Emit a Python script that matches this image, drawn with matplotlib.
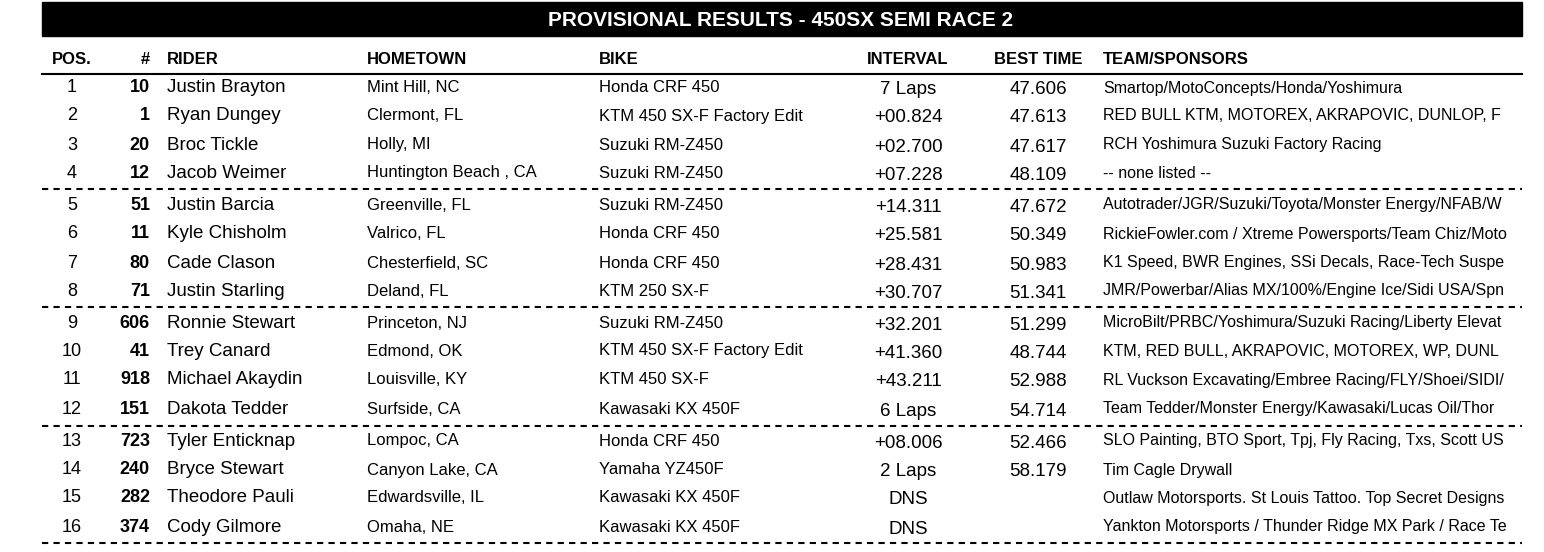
import matplotlib
matplotlib.use("Agg")
import matplotlib.pyplot as plt
from matplotlib.patches import Rectangle

title = "PROVISIONAL RESULTS - 450SX SEMI RACE 2"
headers = ["POS.", "#", "RIDER", "HOMETOWN", "BIKE", "INTERVAL", "BEST TIME", "TEAM/SPONSORS"]
positions = list(range(1, 17))
numbers = ["10", "1", "20", "12", "51", "11", "80", "71", "606", "41", "918", "151", "723", "240", "282", "374"]
riders = ["Justin Brayton", "Ryan Dungey", "Broc Tickle", "Jacob Weimer", "Justin Barcia", "Kyle Chisholm",
          "Cade Clason", "Justin Starling", "Ronnie Stewart", "Trey Canard", "Michael Akaydin", "Dakota Tedder",
          "Tyler Enticknap", "Bryce Stewart", "Theodore Pauli", "Cody Gilmore"]
hometowns = ["Mint Hill, NC", "Clermont, FL", "Holly, MI", "Huntington Beach , CA", "Greenville, FL", "Valrico, FL",
             "Chesterfield, SC", "Deland, FL", "Princeton, NJ", "Edmond, OK", "Louisville, KY", "Surfside, CA",
             "Lompoc, CA", "Canyon Lake, CA", "Edwardsville, IL", "Omaha, NE"]
bikes = ["Honda CRF 450", "KTM 450 SX-F Factory Edit", "Suzuki RM-Z450", "Suzuki RM-Z450", "Suzuki RM-Z450",
         "Honda CRF 450", "Honda CRF 450", "KTM 250 SX-F", "Suzuki RM-Z450", "KTM 450 SX-F Factory Edit",
         "KTM 450 SX-F", "Kawasaki KX 450F", "Honda CRF 450", "Yamaha YZ450F", "Kawasaki KX 450F", "Kawasaki KX 450F"]
intervals = ["7 Laps", "+00.824", "+02.700", "+07.228", "+14.311", "+25.581", "+28.431", "+30.707", "+32.201",
             "+41.360", "+43.211", "6 Laps", "+08.006", "2 Laps", "DNS", "DNS"]
best_times = ["47.606", "47.613", "47.617", "48.109", "47.672", "50.349", "50.983", "51.341", "51.299", "48.744",
              "52.988", "54.714", "52.466", "58.179", "", ""]
teams = ["Smartop/MotoConcepts/Honda/Yoshimura", "RED BULL KTM, MOTOREX, AKRAPOVIC, DUNLOP, F",
         "RCH Yoshimura Suzuki Factory Racing", "-- none listed --",
         "Autotrader/JGR/Suzuki/Toyota/Monster Energy/NFAB/W",
         "RickieFowler.com / Xtreme Powersports/Team Chiz/Moto",
         "K1 Speed, BWR Engines, SSi Decals, Race-Tech Suspe",
         "JMR/Powerbar/Alias MX/100%/Engine Ice/Sidi USA/Spn",
         "MicroBilt/PRBC/Yoshimura/Suzuki Racing/Liberty Elevat",
         "KTM, RED BULL, AKRAPOVIC, MOTOREX, WP, DUNL",
         "RL Vuckson Excavating/Embree Racing/FLY/Shoei/SIDI/",
         "Team Tedder/Monster Energy/Kawasaki/Lucas Oil/Thor",
         "SLO Painting, BTO Sport, Tpj, Fly Racing, Txs, Scott US",
         "Tim Cagle Drywall",
         "Outlaw Motorsports. St Louis Tattoo. Top Secret Designs",
         "Yankton Motorsports / Thunder Ridge MX Park / Race Te"]

reg = "Liberation Sans"

W, H = 1544, 552
fig = plt.figure(figsize=(W / 100, H / 100), dpi=100)
ax = fig.add_axes([0, 0, 1, 1])
ax.set_xlim(0, W); ax.set_ylim(H, 0); ax.axis("off")

ax.add_patch(Rectangle((42, 2), 1480, 34, color="black"))
ax.text(781, 20, title, color="white", fontsize=15, fontweight="bold", family=reg, ha="center", va="center")

hy = 60
hx = [(72, "center"), (150, "right"), (167, "left"), (367, "left"), (599, "left"),
      (908, "center"), (1038, "center"), (1103, "left")]
for (x, a), h in zip(hx, headers):
    ax.text(x, hy, h, fontsize=12, fontweight="bold", family=reg, ha=a, va="center")
ax.plot([42, 1522], [74, 74], color="black", lw=1.5)

row_y = [88, 116, 145, 173, 205, 234, 263, 291, 323, 351, 380, 409, 441, 470, 498, 527]
for i in range(16):
    y = row_y[i]
    ax.text(72, y, str(positions[i]), fontsize=13, family=reg, ha="center", va="center")
    ax.text(150, y, numbers[i], fontsize=13, family=reg, fontweight="bold", ha="right", va="center")
    ax.text(167, y, riders[i], fontsize=13.5, family=reg, ha="left", va="center")
    ax.text(367, y, hometowns[i], fontsize=12, family=reg, ha="left", va="center")
    ax.text(599, y, bikes[i], fontsize=12, family=reg, ha="left", va="center")
    ax.text(908, y + 2, intervals[i], fontsize=13.5, family=reg, ha="center", va="center")
    ax.text(1038, y + 2, best_times[i], fontsize=13.5, family=reg, ha="center", va="center")
    ax.text(1103, y, teams[i], fontsize=11.5, family=reg, ha="left", va="center")

for y in [189, 307, 426, 543]:
    ax.plot([42, 1522], [y, y], color="black", lw=1.5, ls=(0, (3, 2.5)))

fig.savefig("out.png", dpi=100)
